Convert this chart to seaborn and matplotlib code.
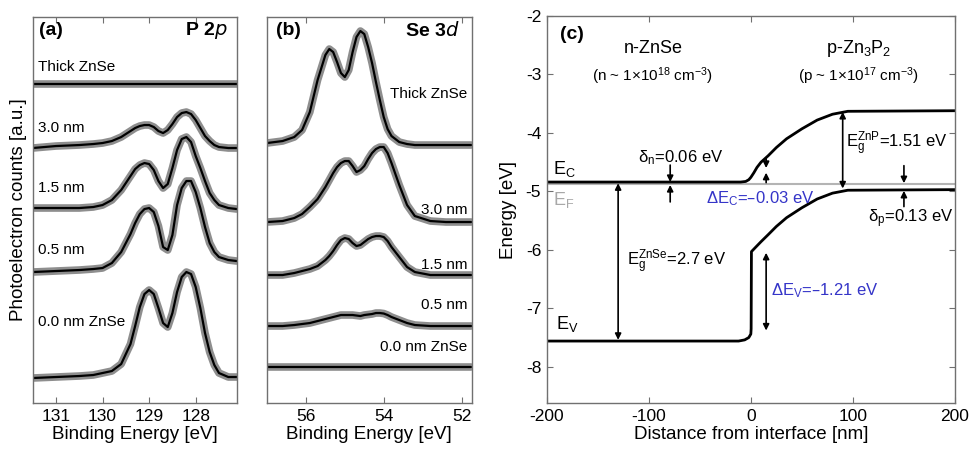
import matplotlib
matplotlib.use('Agg')
import matplotlib.pyplot as plt
import seaborn as sns

# ---------------- Panel (a): P 2p spectra ----------------
x_p2p = [131.5, 131.0, 130.5, 130.2, 130.0, 129.8, 129.6, 129.4, 129.3, 129.2, 129.1,
         129.0, 128.9, 128.8, 128.7, 128.6, 128.5, 128.4, 128.3, 128.2, 128.1, 128.0,
         127.9, 127.8, 127.7, 127.6, 127.5, 127.3, 127.12]
p2p_thick = [319, 319, 319, 319, 319, 319, 319, 319, 319, 319, 319, 319, 319, 319, 319,
             319, 319, 319, 319, 319, 319, 319, 319, 319, 319, 319, 319, 319, 319]
p2p_30 = [255, 257, 258, 259, 260, 262, 266, 272, 275, 277, 278, 278, 276, 272, 270,
          273, 279, 286, 290, 291, 289, 283, 275, 267, 262, 258, 256, 255, 255]
p2p_15 = [195, 195, 195, 196, 198, 203, 213, 227, 234, 238, 240, 239, 233, 222, 215,
          219, 235, 253, 264, 266, 261, 247, 235, 222, 210, 203, 198, 195, 194]
p2p_05 = [131, 132, 133, 134, 135, 140, 151, 169, 180, 189, 194, 195, 191, 177, 156,
          153, 168, 198, 215, 222, 222, 211, 195, 176, 160, 151, 146, 143, 142]
p2p_00 = [25, 26, 27, 28, 30, 32, 39, 59, 77, 96, 109, 113, 109, 95, 80,
          76, 90, 111, 126, 131, 129, 116, 95, 70, 51, 38, 30, 26, 26]
p2p_labels = ["Thick ZnSe", "3.0 nm", "1.5 nm", "0.5 nm", "0.0 nm ZnSe"]
p2p_label_y = [336, 275, 215, 153, 81]
p2p_ticks = [131, 130, 129, 128]

# ---------------- Panel (b): Se 3d spectra ----------------
x_se3d = [57.0, 56.6, 56.3, 56.1, 55.9, 55.7, 55.5, 55.4, 55.3, 55.2, 55.1, 55.0,
          54.9, 54.8, 54.7, 54.6, 54.5, 54.4, 54.3, 54.2, 54.1, 54.0, 53.9, 53.8,
          53.6, 53.4, 53.2, 52.8, 52.4, 51.75]
se_thick = [260, 262, 266, 273, 291, 323, 348, 354, 351, 341, 330, 326, 333, 351, 366,
            372, 369, 356, 340, 321, 303, 286, 274, 267, 261, 259, 258, 258, 258, 258]
se_30 = [181, 182, 185, 189, 196, 204, 216, 223, 230, 236, 240, 242, 242, 237, 231,
         233, 237, 244, 250, 254, 256, 256, 250, 240, 218, 198, 187, 182, 181, 181]
se_15 = [128, 128, 130, 132, 134, 137, 143, 147, 152, 158, 163, 165, 164, 160, 157,
         158, 161, 164, 166, 167, 167, 166, 162, 156, 146, 136, 131, 128, 128, 128]
se_05 = [77, 77, 78, 79, 80, 82, 84, 85, 86, 87, 88, 88, 88, 88, 87.5,
         87, 88, 88.5, 89, 90, 90, 89.5, 88, 86, 83, 80, 78, 77, 77, 77]
se_00 = [36, 36, 36, 36, 36, 36, 36, 36, 36, 36, 36, 36, 36, 36, 36,
         36, 36, 36, 36, 36, 36, 36, 36, 36, 36, 36, 36, 36, 36, 36]
se_labels = ["Thick ZnSe", "3.0 nm", "1.5 nm", "0.5 nm", "0.0 nm ZnSe"]
se_label_y = [309, 193, 138, 98, 56]
se_ticks = [56, 54, 52]

# ---------------- Panel (c): band diagram ----------------
dist_ec = [-200, -10, -5, -2, 0, 3, 6, 10, 17, 25, 35, 50, 65, 80, 95, 200]
ec = [-4.84, -4.84, -4.83, -4.80, -4.76, -4.68, -4.59, -4.50, -4.39, -4.25, -4.10,
      -3.93, -3.78, -3.68, -3.63, -3.62]
dist_ev = [-200, -12, -6, -2, 0, 0.3, 0.6, 5, 10, 17, 25, 35, 50, 65, 80, 95, 200]
ev = [-7.56, -7.56, -7.54, -7.50, -7.44, -7.35, -6.03, -5.95, -5.86, -5.74, -5.60,
      -5.45, -5.28, -5.13, -5.03, -4.98, -4.97]
dist_ef = [-200, 200]
ef = [-4.87, -4.87]
c_xticks = [-200, -100, 0, 100, 200]
c_yticks = [-8, -7, -6, -5, -4, -3, -2]

# ---------------- style ----------------
sns.set_style('white')
plt.rcParams['font.family'] = ['Liberation Sans', 'DejaVu Sans']
plt.rcParams['mathtext.default'] = 'regular'
plt.rcParams['axes.unicode_minus'] = False
plt.rcParams['text.color'] = 'black'
plt.rcParams['axes.labelcolor'] = 'black'
plt.rcParams['xtick.color'] = 'black'
plt.rcParams['ytick.color'] = 'black'

FRAME = '#707070'
GRAY = '#8e8e8e'
BLUE = '#3535c8'

fig = plt.figure(figsize=(9.7, 4.5), dpi=100)
axa = fig.add_axes([0.0337, 0.1044, 0.2103, 0.8584])
axb = fig.add_axes([0.2749, 0.1044, 0.2113, 0.8584])
axc = fig.add_axes([0.5636, 0.1044, 0.4209, 0.8600])


def style(ax, yticks=True):
    for s in ax.spines.values():
        s.set_color(FRAME)
        s.set_linewidth(1.0)
        s.set_visible(True)
    ax.tick_params(axis='x', direction='in', bottom=True, top=True, length=4, width=0.8,
                   color=FRAME, labelcolor='black', labelsize=12.5, pad=4)
    ax.tick_params(axis='y', direction='in', left=yticks, right=yticks, length=4, width=0.8,
                   color=FRAME, labelcolor='black', labelsize=12.5, pad=4)


def spectrum(ax, x, y):
    sns.lineplot(x=x, y=y, ax=ax, color=GRAY, lw=5.5, estimator=None, sort=False,
                 solid_capstyle='round', solid_joinstyle='round')
    sns.lineplot(x=x, y=y, ax=ax, color='black', lw=1.6, estimator=None, sort=False,
                 solid_joinstyle='round')


# Panel (a)
for ser in [p2p_thick, p2p_30, p2p_15, p2p_05, p2p_00]:
    spectrum(axa, x_p2p, ser)
axa.set_xlim(131.5, 127.12)
axa.set_ylim(0, 386.3)
axa.set_xticks(p2p_ticks)
axa.set_yticks([])
style(axa, yticks=False)
axa.set_xlabel('Binding Energy [eV]', fontsize=13.5, labelpad=2)
axa.set_ylabel('Photoelectron counts [a.u.]', fontsize=13.5, labelpad=4)
for lab, yy in zip(p2p_labels, p2p_label_y):
    axa.text(131.39, yy, lab, fontsize=11, ha='left', va='center')
axa.text(131.36, 373, '(a)', fontsize=14, fontweight='bold', ha='left', va='center')
axa.text(127.31, 373, 'P 2$\\mathit{p}$', fontsize=14, fontweight='bold', ha='right', va='center')

# Panel (b)
for ser in [se_thick, se_30, se_15, se_05, se_00]:
    spectrum(axb, x_se3d, ser)
axb.set_xlim(57.01, 51.74)
axb.set_ylim(0, 386.3)
axb.set_xticks(se_ticks)
axb.set_yticks([])
style(axb, yticks=False)
axb.set_xlabel('Binding Energy [eV]', fontsize=13.5, labelpad=2)
for lab, yy in zip(se_labels, se_label_y):
    axb.text(51.84, yy, lab, fontsize=11, ha='right', va='center')
axb.text(56.76, 373, '(b)', fontsize=14, fontweight='bold', ha='left', va='center')
axb.text(52.04, 373, 'Se 3$\\mathit{d}$', fontsize=14, fontweight='bold', ha='right', va='center')

# Panel (c)
sns.lineplot(x=dist_ef, y=ef, ax=axc, color='#b4b4b4', lw=1.5, estimator=None)
sns.lineplot(x=dist_ec, y=ec, ax=axc, color='black', lw=2.0, estimator=None, sort=False)
sns.lineplot(x=dist_ev, y=ev, ax=axc, color='black', lw=2.0, estimator=None, sort=False)
axc.set_xlim(-200, 200)
axc.set_ylim(-8.62, -2)
axc.set_xticks(c_xticks)
axc.set_yticks(c_yticks)
style(axc)
axc.set_xlabel('Distance from interface [nm]', fontsize=13.5, labelpad=2)
axc.set_ylabel('Energy [eV]', fontsize=13.5, labelpad=6)


def arrow(ax, x0, y0, x1, y1, style='-|>'):
    ax.annotate('', xy=(x1, y1), xytext=(x0, y0),
                arrowprops=dict(arrowstyle=style, color='black', lw=1.2,
                                mutation_scale=9, shrinkA=0, shrinkB=0))


arrow(axc, -79, -4.55, -79, -4.84)
arrow(axc, -79, -5.18, -79, -4.89)
arrow(axc, 15, -4.44, 15, -4.60)
arrow(axc, 15, -4.85, 15, -4.68)
arrow(axc, -130, -4.86, -130, -7.54, '<|-|>')
arrow(axc, 90, -3.64, 90, -4.95, '<|-|>')
arrow(axc, 150, -4.56, 150, -4.86)
arrow(axc, 150, -5.26, 150, -4.99)
arrow(axc, 15, -6.05, 15, -7.38, '<|-|>')

axc.text(-187, -2.32, '(c)', fontsize=14, fontweight='bold', ha='left', va='center')
axc.text(-96, -2.55, 'n-ZnSe', fontsize=13, ha='center', va='center')
axc.text(-96, -3.03, '(n ~ 1\u00d710$^{18}$ cm$^{-3}$)', fontsize=11, ha='center', va='center')
axc.text(106, -2.55, 'p-Zn$_3$P$_2$', fontsize=13, ha='center', va='center')
axc.text(106, -3.03, '(p ~ 1\u00d710$^{17}$ cm$^{-3}$)', fontsize=11, ha='center', va='center')
axc.text(-194, -4.62, 'E$_C$', fontsize=13, ha='left', va='center')
axc.text(-194, -5.14, 'E$_F$', fontsize=13, ha='left', va='center', color='#a8a8a8')
axc.text(-191, -7.27, 'E$_V$', fontsize=13, ha='left', va='center')
axc.text(-111, -4.42, '\u03b4$_n$=0.06 eV', fontsize=12, ha='left', va='center')
axc.text(-44, -5.13, '\u0394E$_C$=\u20130.03 eV', fontsize=12, ha='left', va='center', color=BLUE)
axc.text(93, -4.18, 'E$_g^{ZnP}$=1.51 eV', fontsize=12, ha='left', va='center')
axc.text(115, -5.47, '\u03b4$_p$=0.13 eV', fontsize=12, ha='left', va='center')
axc.text(-121, -6.2, 'E$_g^{ZnSe}$=2.7 eV', fontsize=12, ha='left', va='center')
axc.text(20, -6.7, '\u0394E$_V$=\u20131.21 eV', fontsize=12, ha='left', va='center', color=BLUE)

fig.savefig('out.png', dpi=100)
